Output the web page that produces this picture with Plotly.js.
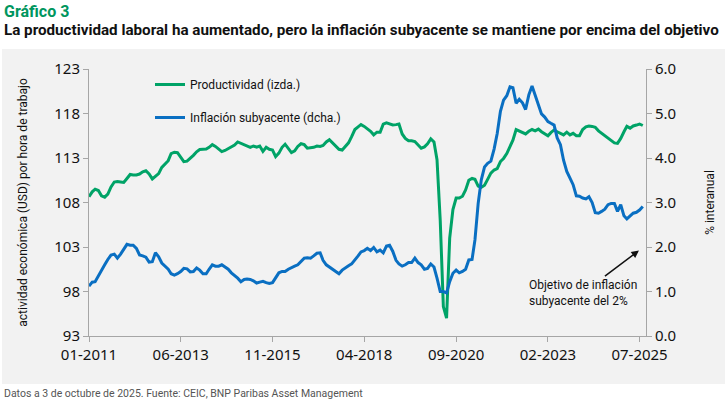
<!DOCTYPE html>
<html>
<head>
<meta charset="utf-8">
<script src="https://cdn.plot.ly/plotly-3.0.1.min.js"></script>
<style>
  html, body { margin: 0; padding: 0; background: #ffffff; }
  #chart { width: 725px; height: 400px; }
</style>
</head>
<body>
<div id="chart"></div>
<script>
// Monthly series, January 2011 to August 2025
const startYear = 2011;
const startMonth = 1;

// Labour productivity, USD of activity per hour worked (left axis)
const productividad = [
  108.65, 109.2, 109.5, 109.35, 108.75, 108.6, 108.95, 109.75, 110.3, 110.35, 110.3, 110.25,
  110.7, 111.15, 111.1, 111.1, 111.2, 111.45, 111.57, 111.2, 110.65, 110.9, 111.25, 111.95,
  112.3, 112.7, 113.5, 113.65, 113.6, 113.1, 112.6, 112.65, 112.95, 113.3, 113.7, 113.95,
  113.98, 114.0, 114.2, 114.5, 114.3, 114.05, 113.72, 113.85, 114.05, 114.25, 114.45, 114.8,
  114.65, 114.5, 114.35, 114.2, 114.35, 114.22, 114.35, 113.75, 114.2, 113.98, 113.9, 113.15,
  113.55, 114.2, 114.55, 114.1, 113.6, 113.8, 114.3, 114.6, 114.5, 114.1, 114.15, 114.2,
  114.35, 114.3, 114.4, 114.8, 115.05, 114.7, 114.25, 113.98, 113.9, 114.3, 114.7, 115.4,
  116.2, 116.5, 116.75, 116.55, 116.3, 116.0, 115.6, 115.9, 115.9, 116.8, 116.95, 116.8,
  116.72, 116.75, 116.82, 115.7, 115.2, 114.94, 114.94, 114.85, 114.45, 114.1, 114.25, 114.6,
  115.15, 114.8, 112.8, 106.0, 96.3, 95.0, 104.0, 107.2, 108.5, 108.5, 108.7, 109.4,
  110.5, 110.7, 110.6, 109.85, 109.7, 109.95, 110.6, 111.3, 111.65, 111.8, 112.6, 112.95,
  113.5, 114.3, 115.0, 116.2, 116.05, 115.85, 115.7, 116.0, 116.2, 116.05, 116.25, 115.95,
  115.7, 115.5, 115.85, 116.15, 115.95, 115.8, 115.6, 115.9, 115.6, 115.77, 115.5, 115.5,
  116.2, 116.5, 116.6, 116.55, 116.45, 116.05, 115.8, 115.55, 115.25, 115.0, 114.7, 114.65,
  115.2, 115.95, 116.55, 116.35, 116.6, 116.7, 116.82, 116.65
];

// Core inflation, % year on year (right axis)
const inflacionSubyacente = [
  1.12, 1.21, 1.22, 1.35, 1.50, 1.60, 1.72, 1.82, 1.84, 1.75, 1.84, 1.96,
  2.06, 2.04, 2.04, 1.97, 1.82, 1.80, 1.77, 1.66, 1.67, 1.87, 1.78, 1.64,
  1.57, 1.50, 1.40, 1.37, 1.40, 1.45, 1.52, 1.51, 1.44, 1.45, 1.53, 1.48,
  1.40, 1.40, 1.50, 1.60, 1.57, 1.57, 1.60, 1.55, 1.50, 1.42, 1.36, 1.30,
  1.22, 1.27, 1.28, 1.27, 1.24, 1.19, 1.21, 1.23, 1.20, 1.18, 1.20, 1.30,
  1.42, 1.45, 1.45, 1.50, 1.54, 1.57, 1.60, 1.67, 1.75, 1.76, 1.75, 1.80,
  1.86, 1.87, 1.70, 1.60, 1.55, 1.50, 1.45, 1.40, 1.48, 1.54, 1.58, 1.62,
  1.70, 1.80, 1.89, 1.92, 1.97, 1.92, 1.99, 1.89, 1.93, 1.87, 2.02, 2.04,
  1.90, 1.70, 1.62, 1.57, 1.60, 1.65, 1.65, 1.75, 1.65, 1.60, 1.50, 1.52,
  1.62, 1.55, 1.30, 1.00, 1.00, 0.97, 1.22, 1.41, 1.48, 1.42, 1.45, 1.50,
  1.71, 1.72, 2.16, 2.98, 3.51, 3.80, 3.88, 3.93, 4.20, 4.55, 5.05, 5.30,
  5.40, 5.60, 5.58, 5.23, 5.32, 5.24, 5.09, 5.42, 5.62, 5.40, 5.20, 4.99,
  4.92, 4.82, 4.78, 4.74, 4.45, 4.30, 3.95, 3.70, 3.55, 3.40, 3.15, 3.14,
  3.10, 3.08, 3.13, 3.00, 2.77, 2.76, 2.80, 2.85, 2.95, 2.98, 2.98, 2.80,
  2.95, 2.70, 2.63, 2.70, 2.76, 2.78, 2.83, 2.91
];

// X-axis ticks
const tickFechas = ['2011-01-01', '2013-06-01', '2015-11-01', '2018-04-01', '2020-09-01', '2023-02-01', '2025-07-01'];
const tickEtiquetas = ['01-2011', '06-2013', '11-2015', '04-2018', '09-2020', '02-2023', '07-2025'];

// Monthly date stamps for the series
function monthStamps(n) {
  const out = [];
  for (let i = 0; i < n; i++) {
    const total = (startMonth - 1) + i;
    const y = startYear + Math.floor(total / 12);
    const m = (total % 12) + 1;
    out.push(y + '-' + String(m).padStart(2, '0') + '-01');
  }
  return out;
}
const fechas = monthStamps(productividad.length);

const verde = '#00a367';
const azul = '#0a6fc2';
const gris = '#a6a6a6';
const fontTicks = { family: 'Noto Sans, Roboto, sans-serif', size: 15, color: '#111111' };

const traces = [
  {
    x: fechas, y: productividad, type: 'scatter', mode: 'lines',
    name: 'Productividad (izda.)', legendgroup: 'a',
    line: { color: verde, width: 3 }, yaxis: 'y'
  },
  {
    x: fechas, y: inflacionSubyacente, type: 'scatter', mode: 'lines',
    name: 'Inflación subyacente (dcha.)', legendgroup: 'b',
    line: { color: azul, width: 3 }, yaxis: 'y2'
  }
];

// Plot area spans x 89..646 px, y 69..336 px
const L = 89, R = 646, T = 69, B = 336;
const W = R - L, H = B - T;
const px = v => (v - L) / W;
const py = v => (B - v) / H;

const layout = {
  width: 725, height: 400,
  margin: { l: L, r: 725 - R, t: T, b: 400 - B, pad: 0 },
  paper_bgcolor: '#ffffff',
  plot_bgcolor: 'rgba(0,0,0,0)',
  showlegend: true,
  legend: {
    x: px(150), y: py(70), xanchor: 'left', yanchor: 'top',
    bgcolor: 'rgba(0,0,0,0)', borderwidth: 0,
    font: { family: 'Roboto, sans-serif', size: 12, color: '#111111' },
    tracegroupgap: 14, itemwidth: 30
  },
  xaxis: {
    type: 'date',
    range: ['2011-01-01', '2025-09-01'],
    tickmode: 'array', tickvals: tickFechas, ticktext: tickEtiquetas,
    ticks: 'outside', ticklen: 5, tickcolor: gris, tickwidth: 1,
    showline: true, linecolor: gris, linewidth: 1,
    showgrid: false, zeroline: false,
    tickfont: fontTicks
  },
  yaxis: {
    range: [93, 123], tick0: 93, dtick: 5,
    ticks: 'outside', ticklen: 5, tickcolor: gris,
    showline: true, linecolor: gris, linewidth: 1,
    showgrid: false, zeroline: false,
    tickfont: fontTicks,
    title: {
      text: 'actividad económica (USD) por hora de trabajo',
      font: { family: 'Roboto, sans-serif', size: 12, color: '#111111' },
      standoff: 24
    }
  },
  yaxis2: {
    range: [0, 6], tick0: 0, dtick: 1, tickformat: '.1f',
    overlaying: 'y', side: 'right',
    ticks: 'outside', ticklen: 5, tickcolor: gris,
    showline: true, linecolor: gris, linewidth: 1,
    showgrid: false, zeroline: false,
    tickfont: fontTicks,
    title: {
      text: '% interanual',
      font: { family: 'Roboto, sans-serif', size: 12, color: '#111111' },
      standoff: 30
    }
  },
  shapes: [
    {
      type: 'rect', xref: 'paper', yref: 'paper', layer: 'below',
      x0: px(2), x1: px(725), y0: py(384), y1: py(49),
      fillcolor: '#f2f2f2', line: { width: 0 }
    }
  ],
  annotations: [
    {
      xref: 'paper', yref: 'paper', x: px(2), y: py(12),
      xanchor: 'left', yanchor: 'middle', showarrow: false,
      text: '<b>Gráfico 3</b>',
      font: { family: 'Liberation Sans Narrow, Roboto, sans-serif', size: 16, color: '#00965e' }
    },
    {
      xref: 'paper', yref: 'paper', x: px(2), y: py(30),
      xanchor: 'left', yanchor: 'middle', showarrow: false,
      text: '<b>La productividad laboral ha aumentado, pero la inflación subyacente se mantiene por encima del objetivo</b>',
      font: { family: 'Liberation Sans Narrow, Roboto, sans-serif', size: 15.2, color: '#111111' }
    },
    {
      xref: 'paper', yref: 'paper', x: px(2), y: py(393),
      xanchor: 'left', yanchor: 'middle', showarrow: false,
      text: 'Datos a 3 de octubre de 2025. Fuente: CEIC, BNP Paribas Asset Management',
      font: { family: 'Roboto, sans-serif', size: 10.5, color: '#555555' }
    },
    {
      xref: 'x', yref: 'y2', x: '2025-06-25', y: 1.92,
      axref: 'pixel', ayref: 'pixel', ax: -56, ay: 42,
      showarrow: true, arrowhead: 2, arrowsize: 1, arrowwidth: 1.5, arrowcolor: '#111111',
      text: 'Objetivo de inflación<br>subyacente del 2%', align: 'left',
      font: { family: 'Roboto, sans-serif', size: 12, color: '#111111' }
    }
  ]
};

Plotly.newPlot('chart', traces, layout, { displayModeBar: false, staticPlot: true });
</script>
</body>
</html>
